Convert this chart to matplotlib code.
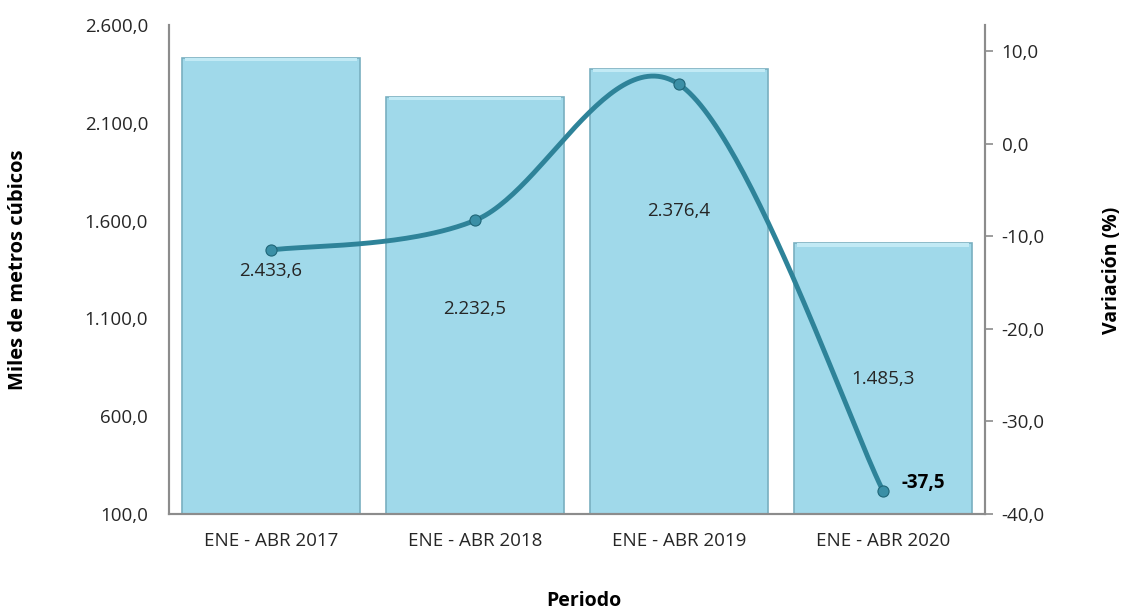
import matplotlib.pyplot as plt
import numpy as np

# --------------------------------
# Data
# --------------------------------

periods = ["ENE - ABR 2017", "ENE - ABR 2018", "ENE - ABR 2019", "ENE - ABR 2020"]
volume = [2433.6, 2232.5, 2376.4, 1485.3]
variation = [-11.5, -8.3, 6.4, -37.5]

# label anchor heights (left axis units), as placed in the original
label_y = [1340, 1150, 1650, 790]

left_ticks = [100, 600, 1100, 1600, 2100, 2600]
right_ticks = [-40, -30, -20, -10, 0, 10]

BAR_COLOR = "#A0D9EA"
BAR_EDGE = "#79AFC0"
LINE_COLOR = "#2E8399"
TEXT_COLOR = "#262626"
AXIS_COLOR = "#8C8C8C"

FS = 13.5

plt.rcParams["font.family"] = ["Open Sans", "DejaVu Sans"]


def fmt_es(v, dec=1):
    s = f"{v:,.{dec}f}"
    return s.replace(",", "X").replace(".", ",").replace("X", ".")


def smooth_curve(xs, ys, n=60):
    # catmull-rom style bezier, like the smoothed line option in excel
    pts = np.column_stack([xs, ys]).astype(float)
    padded = np.vstack([pts[0], pts, pts[-1]])
    out = []
    for i in range(len(pts) - 1):
        p0, p1, p2, p3 = padded[i], padded[i + 1], padded[i + 2], padded[i + 3]
        c1 = p1 + (p2 - p0) / 6
        c2 = p2 - (p3 - p1) / 6
        t = np.linspace(0, 1, n)[:, None]
        seg = ((1 - t) ** 3) * p1 + 3 * ((1 - t) ** 2) * t * c1 \
            + 3 * (1 - t) * t ** 2 * c2 + t ** 3 * p2
        out.append(seg if i == 0 else seg[1:])
    out = np.vstack(out)
    return out[:, 0], out[:, 1]


# --------------------------------
# Figure
# --------------------------------

fig = plt.figure(figsize=(11.22, 6.10), dpi=100)
ax = fig.add_axes([0.1506, 0.1574, 0.7273, 0.8016])
ax2 = ax.twinx()

x = np.arange(len(periods))

# bars with a light bevel
ax.bar(x, [v - 100 for v in volume], bottom=100, width=0.87,
       color=BAR_COLOR, edgecolor=BAR_EDGE, linewidth=1.2, zorder=2)
ax.bar(x, [18] * len(x), bottom=[v - 18 for v in volume], width=0.84,
       color="#C2EAF5", linewidth=0, zorder=3)

for xi, yl, v in zip(x, label_y, volume):
    ax.text(xi, yl, fmt_es(v), ha="center", va="center",
            fontsize=FS, color=TEXT_COLOR, zorder=6)

ax.set_xlim(-0.5, len(periods) - 0.5)
ax.set_ylim(100, 2600)
ax.set_yticks(left_ticks)
ax.set_yticklabels([fmt_es(t) for t in left_ticks])
ax.set_xticks(x)
ax.set_xticklabels(periods)
ax.tick_params(axis="y", length=0, pad=15, labelsize=FS, labelcolor=TEXT_COLOR)
ax.tick_params(axis="x", length=0, pad=13, labelsize=FS, labelcolor=TEXT_COLOR)

# --------------------------------
# Variation line
# --------------------------------

sx, sy = smooth_curve(x, variation)
ax2.plot(sx, sy, color=LINE_COLOR, linewidth=3.5, solid_capstyle="round", zorder=4)
ax2.plot(x, variation, "o", markersize=8, color="#3A8FA6",
         markeredgecolor="#1F6577", markeredgewidth=0.8, zorder=5)

ax2.text(x[-1] + 0.09, variation[-1] + 0.8, fmt_es(variation[-1]),
         ha="left", va="center", fontsize=FS, fontweight="bold", color="black")

ax2.set_ylim(-40, 12.8)
ax2.set_yticks(right_ticks)
ax2.set_yticklabels([fmt_es(t) for t in right_ticks])
ax2.tick_params(axis="y", length=6, width=1.2, color=AXIS_COLOR, pad=6,
                labelsize=FS, labelcolor=TEXT_COLOR)

for a in (ax, ax2):
    a.spines["top"].set_visible(False)
    for s in ("left", "right", "bottom"):
        a.spines[s].set_color(AXIS_COLOR)
        a.spines[s].set_linewidth(1.5)

ax.set_zorder(1)
ax2.set_zorder(2)
ax.patch.set_visible(False)

# --------------------------------
# Axis titles
# --------------------------------

fig.text(0.016, 0.557, "Miles de metros cúbicos", rotation=90,
         ha="center", va="center", fontsize=14.5, fontweight="bold")
fig.text(0.991, 0.557, "Variación (%)", rotation=90,
         ha="center", va="center", fontsize=14, fontweight="bold")
fig.text(0.52, 0.015, "Periodo", ha="center", va="center",
         fontsize=14, fontweight="bold")

plt.savefig("out.png", dpi=100)
